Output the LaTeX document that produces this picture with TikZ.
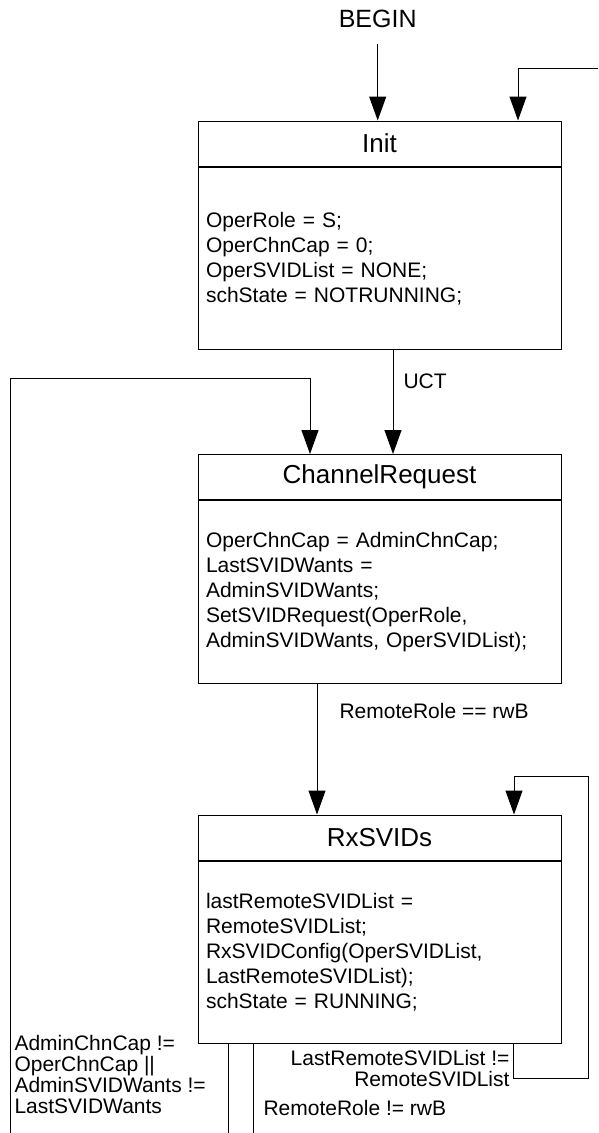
\documentclass[tikz,border=0pt]{standalone}
\usepackage{fontspec}
\setmainfont{Liberation Sans}
\usepackage{tikz}
\usetikzlibrary{arrows.meta,positioning}

\begin{document}
\begin{tikzpicture}[
  x=1pt, y=-1pt,
  line width=1pt,
  statehead/.style={rectangle, draw=black, minimum width=363pt, minimum height=45pt,
               inner sep=0pt, font=\fontsize{26}{30}\selectfont},
  statebody/.style={rectangle, draw=black, minimum width=363pt, minimum height=182.5pt,
               text width=347pt, inner xsep=8pt, align=left,
               font=\fontsize{21}{25}\selectfont},
  guard/.style={inner sep=0pt, font=\fontsize{21}{21}\selectfont},
  arrow/.style={-{Triangle[length=24pt, width=17pt]}, line width=1pt, black},
]
\useasboundingbox (0,0) rectangle (598,1133);

\node[font=\fontsize{25}{30}\selectfont, inner ysep=16pt] (begin) at (377.7,19) {BEGIN};

\node[statehead] (init) at (379.5,143.5) {Init};
\node[statebody, below=0pt of init] (initbody)
  {OperRole = S;\\OperChnCap = 0;\\OperSVIDList = NONE;\\schState = NOTRUNNING;};

\node[statehead, below=104pt of initbody] (chreq) {ChannelRequest};
\node[statebody, below=0pt of chreq] (chreqbody)
  {OperChnCap = AdminChnCap;\\LastSVIDWants =\\AdminSVIDWants;\\SetSVIDRequest(OperRole,\\AdminSVIDWants, OperSVIDList);};

\node[statehead, below=131pt of chreqbody] (rxsvids) {RxSVIDs};
\node[statebody, below=0pt of rxsvids] (rxsvidsbody)
  {lastRemoteSVIDList =\\RemoteSVIDList;\\RxSVIDConfig(OperSVIDList,\\LastRemoteSVIDList);\\schState = RUNNING;};

% loose ends at the picture border
\coordinate (topin) at (598,68);
\coordinate (leftin) at (10,1133);
\coordinate (crloop) at (310,378);
\coordinate (selfa) at (588,1078);
\coordinate (selfb) at (588,776);
\coordinate (outa) at (228,1133);
\coordinate (outb) at (253,1133);

\draw[arrow] (begin.south) -- (begin.south |- init.north);
\draw[arrow] (topin) -| ([xshift=138.5pt]init.north);

\draw[arrow] ([xshift=13.5pt]initbody.south) -- ([xshift=13.5pt]chreq.north)
  node[guard, pos=0.3, anchor=west, xshift=10pt] (uct) {UCT};
\draw[arrow] (leftin) |- (crloop) -- (crloop |- chreq.north);

\draw[arrow] ([xshift=-62.5pt]chreqbody.south) -- ([xshift=-62.5pt]rxsvids.north)
  node[guard, pos=0.21, anchor=west, xshift=22pt] (rwb) {RemoteRole == rwB};

% self loop on RxSVIDs
\draw[arrow] ([xshift=133.5pt]rxsvidsbody.south) |- (selfa) -- (selfb) -| ([xshift=134.5pt]rxsvids.north);
\node[guard, align=right, anchor=east] (relist) at (510,1068)
  {LastRemoteSVIDList !=\\RemoteSVIDList};

\draw (rxsvidsbody.south -| outa) -- (outa);
\draw (rxsvidsbody.south -| outb) -- (outb);
\node[guard, align=left, anchor=west] (admin) at (14,1074)
  {AdminChnCap !=\\OperChnCap ||\\AdminSVIDWants !=\\LastSVIDWants};
\node[guard, anchor=west] (notrwb) at (263,1108) {RemoteRole != rwB};

\end{tikzpicture}
\end{document}
